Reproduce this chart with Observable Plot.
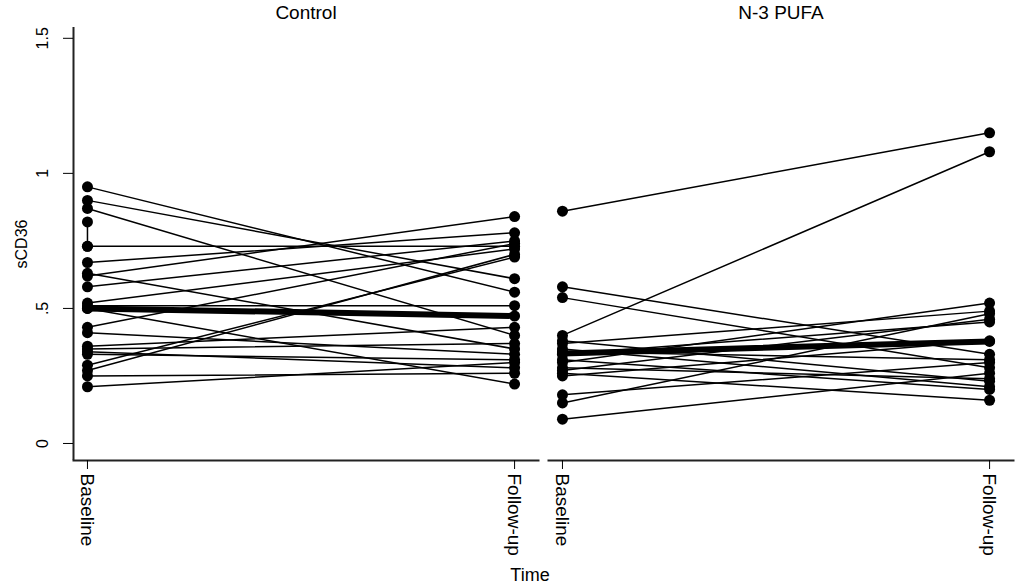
<!DOCTYPE html>
<html><head><meta charset="utf-8">
<script src="https://cdn.jsdelivr.net/npm/d3@7"></script>
<script src="https://cdn.jsdelivr.net/npm/@observablehq/plot@0.6"></script>
<style>
body{margin:0;background:#fff;font-family:"Liberation Sans",Arial,sans-serif;}
#chart{position:relative;width:1024px;height:588px;overflow:hidden;}
#chart svg{position:absolute;left:0;top:0;}
#xlabel{position:absolute;left:0;width:1060px;top:565px;text-align:center;font-size:18px;color:#000;}
</style></head><body><div id="chart"></div>
<script>
const groups = ["Control", "N-3 PUFA"];
const timeLabels = ["Baseline", "Follow-up"];
const yTicks = [0, 0.5, 1, 1.5];
const yTickLabels = ["0", ".5", "1", "1.5"];

// Control group: paired baseline / follow-up values
const controlBaseline = [0.95, 0.90, 0.87, 0.73, 0.67, 0.63, 0.62, 0.58, 0.52, 0.51, 0.50, 0.43, 0.41, 0.36, 0.35, 0.34, 0.33, 0.29, 0.27, 0.25, 0.21];
const controlFollowup = [0.56, 0.61, 0.40, 0.73, 0.78, 0.35, 0.84, 0.75, 0.72, 0.51, 0.22, 0.74, 0.33, 0.43, 0.37, 0.28, 0.31, 0.69, 0.70, 0.26, 0.30];
// a subject with two baseline-only observations (vertical segment)
const controlBaselineOnly = [0.82, 0.73];

// N-3 PUFA group
const pufaBaseline = [0.86, 0.58, 0.54, 0.40, 0.38, 0.37, 0.35, 0.34, 0.33, 0.31, 0.30, 0.28, 0.27, 0.26, 0.25, 0.18, 0.15, 0.09];
const pufaFollowup = [1.15, 0.33, 0.28, 1.08, 0.23, 0.49, 0.21, 0.31, 0.45, 0.20, 0.52, 0.24, 0.46, 0.16, 0.38, 0.30, 0.48, 0.26];

// group means
const meanBaseline = [0.50, 0.333];
const meanFollowup = [0.472, 0.378];

const rows = [];
let id = 0;
function addPairs(group, b, f) {
  b.forEach((v, i) => {
    id++;
    rows.push({group, id, t: 0, v});
    rows.push({group, id, t: 1, v: f[i]});
  });
}
addPairs(groups[0], controlBaseline, controlFollowup);
addPairs(groups[1], pufaBaseline, pufaFollowup);
id++;
controlBaselineOnly.forEach(v => rows.push({group: groups[0], id, t: 0, v}));

const means = [];
groups.forEach((g, i) => {
  means.push({group: g, t: 0, v: meanBaseline[i]});
  means.push({group: g, t: 1, v: meanFollowup[i]});
});

const xDomain = [-0.0327, 1.056];
const yDomain = [-0.063, 1.54];

const plot = Plot.plot({
  width: 1024,
  height: 588,
  marginLeft: 72,
  marginRight: 10,
  marginTop: 27,
  marginBottom: 128,
  style: {fontFamily: "'Liberation Sans', Arial, sans-serif", color: "#000", background: "#fff"},
  fx: {domain: groups, padding: 0.021, label: null},
  x: {domain: xDomain, label: null},
  y: {domain: yDomain, label: null},
  marks: [
    Plot.frame({anchor: "bottom", stroke: "#222", strokeWidth: 2}),
    Plot.ruleX([{group: groups[0]}], {x: () => xDomain[0], fx: "group", stroke: "#222", strokeWidth: 2}),
    Plot.axisFx({anchor: "top", label: null, tickSize: 0, fontSize: 19, tickPadding: 9}),
    Plot.axisY({anchor: "left", ticks: yTicks, tickFormat: d => yTickLabels[yTicks.indexOf(d)], tickRotate: -90, tickSize: 10, tickPadding: 16, fontSize: 16, label: null, textAnchor: "middle"}),
    Plot.axisY({anchor: "left", ticks: [], label: "sCD36", labelAnchor: "center", labelArrow: "none", labelOffset: 58, fontSize: 16}),
    Plot.axisX({ticks: [0, 1], tickFormat: i => timeLabels[i], tickRotate: 90, tickSize: 9, tickPadding: 4, fontSize: 19, label: null}),
    Plot.line(rows, {x: "t", y: "v", z: "id", fx: "group", stroke: "black", strokeWidth: 1.5}),
    Plot.dot(rows, {x: "t", y: "v", fx: "group", r: 5.5, fill: "black", stroke: "none"}),
    Plot.line(means, {x: "t", y: "v", z: "group", fx: "group", stroke: "black", strokeWidth: 6}),
    Plot.dot(means, {x: "t", y: "v", fx: "group", r: 5.5, fill: "black", stroke: "none"})
  ]
});
const chart = document.getElementById("chart");
chart.appendChild(plot);
const xl = document.createElement("div");
xl.id = "xlabel";
xl.textContent = "Time";
chart.appendChild(xl);
</script>
</body></html>
